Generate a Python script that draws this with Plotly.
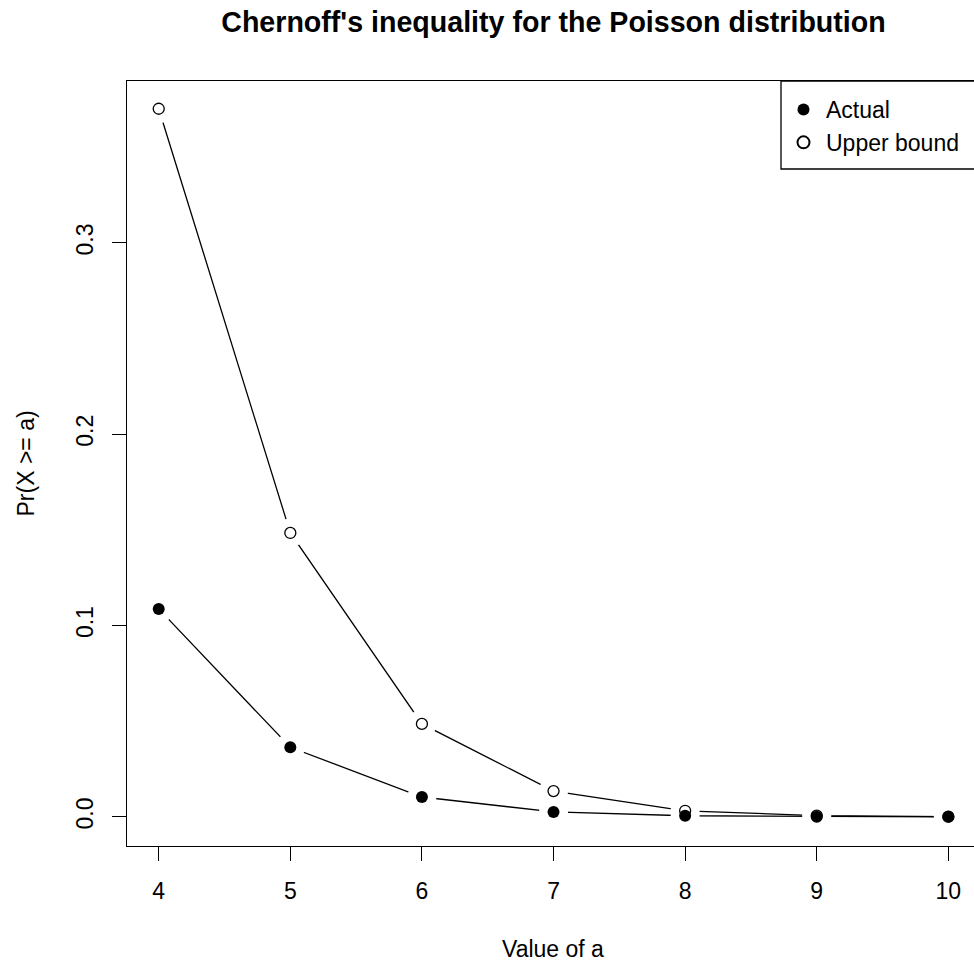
import plotly.graph_objects as go

a_values = [4, 5, 6, 7, 8, 9, 10]
actual = [0.1087, 0.0364, 0.0104, 0.0026, 0.0006, 0.00013, 0.00003]
upper_bound = [0.3701, 0.1484, 0.0486, 0.0135, 0.0032, 0.0007, 0.0001]
y_ticks = [0.0, 0.1, 0.2, 0.3]
y_tick_labels = ["0.0", "0.1", "0.2", "0.3"]
x_ticks = [4, 5, 6, 7, 8, 9, 10]

FONT = "Liberation Sans, Arial, Helvetica, sans-serif"
FS = 23
LW = 1.3

fig = go.Figure()

# upper bound line with gaps (type="b")
fig.add_trace(go.Scatter(x=a_values, y=upper_bound, mode="lines",
                         line=dict(color="black", width=LW), showlegend=False, hoverinfo="skip"))
fig.add_trace(go.Scatter(x=a_values, y=upper_bound, mode="markers",
                         marker=dict(color="white", size=29, line=dict(width=0)),
                         showlegend=False, hoverinfo="skip"))
# actual line with gaps
fig.add_trace(go.Scatter(x=a_values, y=actual, mode="lines",
                         line=dict(color="black", width=LW), showlegend=False, hoverinfo="skip"))
fig.add_trace(go.Scatter(x=a_values, y=actual, mode="markers",
                         marker=dict(color="white", size=29, line=dict(width=0)),
                         showlegend=False, hoverinfo="skip"))
# points
fig.add_trace(go.Scatter(x=a_values, y=actual, mode="markers", name="Actual",
                         marker=dict(color="black", size=12, symbol="circle",
                                     line=dict(width=0))))
fig.add_trace(go.Scatter(x=a_values, y=upper_bound, mode="markers", name="Upper bound",
                         marker=dict(color="black", size=11, symbol="circle-open",
                                     line=dict(width=LW, color="black"))))

W, H = 974, 962
L, R, T, B = 127, 0, 81, 116
plot_w = W - L - R
plot_h = H - T - B

fig.update_layout(
    width=W, height=H,
    margin=dict(l=L, r=R, t=T, b=B, autoexpand=False),
    paper_bgcolor="white", plot_bgcolor="white",
    font=dict(family=FONT, size=FS, color="black"),
    title=dict(text="Chernoff's inequality for the Poisson distribution",
               font=dict(family=FONT, size=28.6, color="black", weight="bold"),
               x=553.5 / W, xref="container", xanchor="center",
               y=1 - 22 / H, yref="container", yanchor="middle"),
    showlegend=True,
    legend=dict(x=(781 - L) / plot_w, y=1 - 7 / plot_h, xanchor="left", yanchor="top",
                bgcolor="rgba(0,0,0,0)", borderwidth=0,
                font=dict(family=FONT, size=FS, color="black"),
                tracegroupgap=0, itemsizing="constant", itemwidth=35),
    xaxis=dict(range=[3.759, 10.195], tickvals=x_ticks, ticktext=[str(v) for v in x_ticks],
               showgrid=False, zeroline=False, showline=True, linecolor="black",
               linewidth=LW, mirror=True, ticks="outside", ticklen=14, tickwidth=LW,
               tickcolor="black", ticklabelstandoff=10, automargin=False,
               tickfont=dict(family=FONT, size=FS, color="black")),
    yaxis=dict(range=[-0.0152, 0.3846], tickvals=y_ticks, ticktext=y_tick_labels,
               showgrid=False, zeroline=False, showline=True, linecolor="black",
               linewidth=LW, mirror=False, ticks="outside", ticklen=14, tickwidth=LW,
               tickcolor="black", tickangle=-90, ticklabelstandoff=10, automargin=False,
               tickfont=dict(family=FONT, size=FS, color="black")),
    shapes=[dict(type="rect", xref="paper", yref="paper",
                 x0=(781 - L) / plot_w, x1=1.05, y0=(H - B - 169) / plot_h, y1=1,
                 line=dict(color="black", width=LW), fillcolor="rgba(0,0,0,0)",
                 layer="above")],
    annotations=[
        dict(text="Value of a", xref="paper", yref="paper",
             x=(553 - L) / plot_w, y=-(949 - (H - B)) / plot_h,
             xanchor="center", yanchor="middle", showarrow=False,
             font=dict(family=FONT, size=FS, color="black")),
        dict(text="Pr(X >= a)", xref="paper", yref="paper",
             x=(25 - L) / plot_w, y=0.5, textangle=-90,
             xanchor="center", yanchor="middle", showarrow=False,
             font=dict(family=FONT, size=FS, color="black")),
    ],
)

fig.write_html("out.html", config={"displayModeBar": False},
               post_script="document.body.style.margin='0';document.body.style.overflow='hidden';")
